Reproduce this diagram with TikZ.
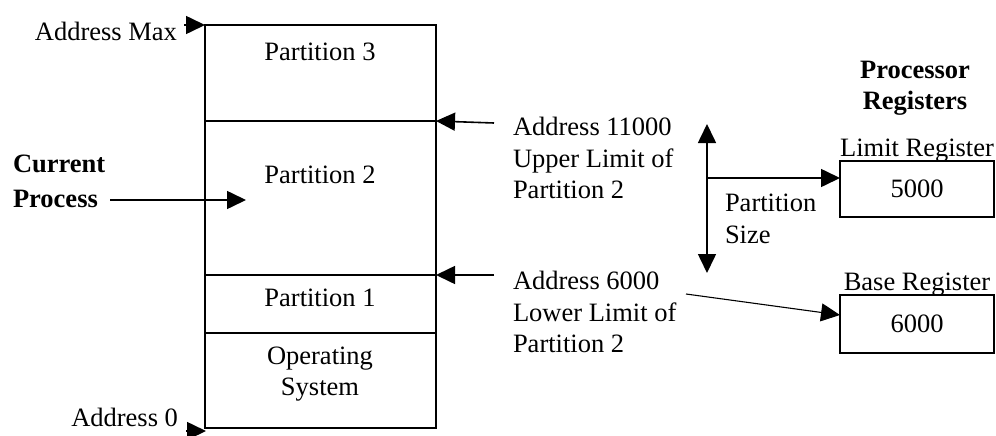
\documentclass[tikz,border=0pt]{standalone}
\usepackage{fontspec}
\setmainfont{Liberation Serif}
\usetikzlibrary{arrows.meta}
\begin{document}
\begin{tikzpicture}[x=1pt,y=-1pt,
  every node/.style={inner sep=0pt, outer sep=0pt, font=\fontsize{26.5}{31.5}\selectfont},
  box/.style={draw, line width=1.6pt, anchor=north west},
  lbl/.style={align=left},
  arr/.style={line width=1.6pt, -{Triangle[length=19pt,width=18pt]}},
  darr/.style={line width=1.6pt, {Triangle[length=19pt,width=18pt]}-{Triangle[length=19pt,width=18pt]}}]
\useasboundingbox (0,0) rectangle (996,436);
% memory partitions
\node[box, minimum width=231pt, minimum height=96pt] (p3) at (205,25) {};
\node[box, minimum width=231pt, minimum height=154pt] (p2) at (205,121) {};
\node[box, minimum width=231pt, minimum height=58pt] (p1) at (205,275) {};
\node[box, minimum width=231pt, minimum height=95pt] (os) at (205,333) {};
\node (t3) at (320,52) {Partition 3};
\node (t2) at (320,175) {Partition 2};
\node (t1) at (320,298) {Partition 1};
\node[align=center] (tos) at (320,374) {Operating\\System};
% address labels
\node[anchor=east] (amax) at (177,31) {Address Max};
\node[anchor=east] (a0) at (178,417) {Address 0};
\coordinate (amaxs) at (184,25);
\coordinate (a0s) at (186,431);
\coordinate (a0t) at (206,431);
\draw[arr] (amaxs) -- (p3.north west);
\draw[arr] (a0s) -- (a0t);
% current process
\node[lbl, anchor=west, font=\fontsize{26.5}{35}\selectfont\bfseries] (cp) at (13,181) {Current\\Process};
\coordinate (cpt) at (246,200);
\draw[arr] (110,200) coordinate (cps) -- (cpt);
% limit texts
\node[lbl, anchor=west] (up) at (513,158) {Address 11000\\Upper Limit of\\Partition 2};
\node[lbl, anchor=west] (lo) at (513,312) {Address 6000\\Lower Limit of\\Partition 2};
\coordinate (ups) at (494,123);
\coordinate (los) at (494,275);
\draw[arr] (ups) -- (p2.north east);
\draw[arr] (los) -- (p1.north east);
% registers
\node[align=center, font=\fontsize{26.5}{31.5}\selectfont\bfseries] (pr) at (915,88) {Processor\\Registers};
\node[box, minimum width=154pt, minimum height=56pt] (lim) at (840,161) {};
\node[box, minimum width=154pt, minimum height=58pt] (base) at (840,295) {};
\node (limv) at (lim.center) {5000};
\node (basev) at (base.center) {6000};
\node[anchor=south] (limt) at ([yshift=-1pt]lim.north) {Limit Register};
\node[anchor=south] (baset) at ([yshift=-1pt]base.north) {Base Register};
% partition size
\coordinate (ps1) at (707,124);
\coordinate (ps2) at (707,273);
\coordinate (psm) at (707,178);
\draw[darr] (ps1) -- (ps2);
\draw[arr] (psm) -- (psm -| lim.west);
\node[lbl, anchor=west] (pst) at (725,219) {Partition\\Size};
\coordinate (bs) at (686,294);
\coordinate (bt) at (840,315);
\draw[arr, line width=1.1pt] (bs) -- (bt);
\end{tikzpicture}
\end{document}
